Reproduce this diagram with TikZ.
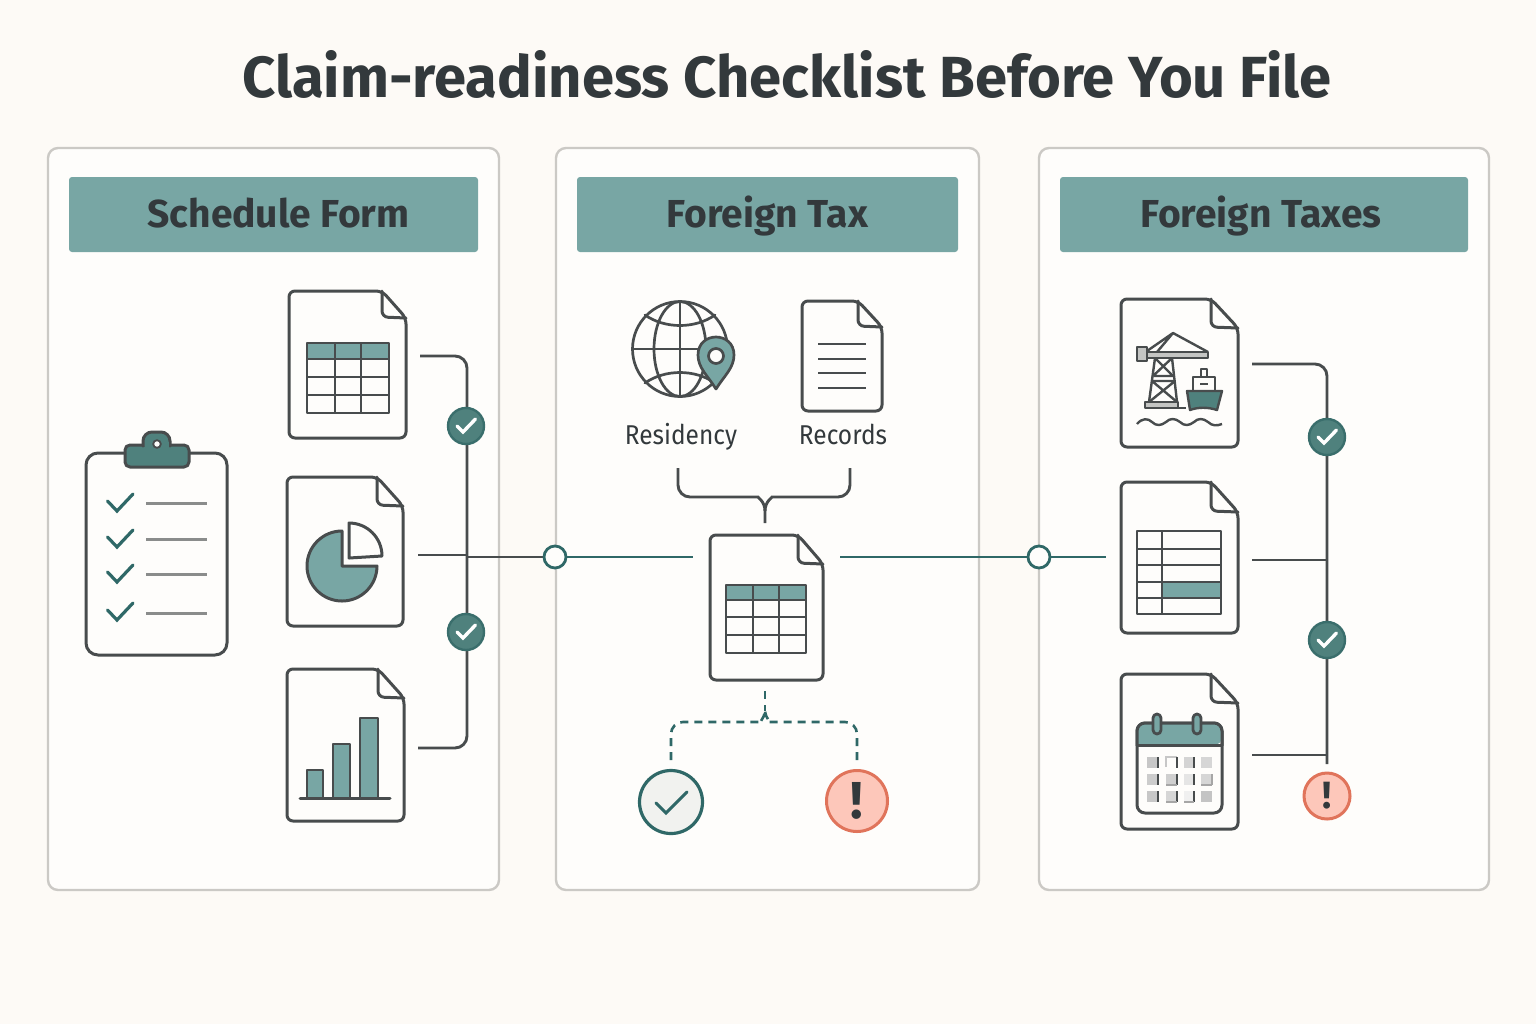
\documentclass[tikz,border=0pt]{standalone}
\usepackage{fontspec}
\setmainfont{Fira Sans}
\newfontfamily\lblfont[FakeStretch=0.9]{Fira Sans}
\usetikzlibrary{calc}
\definecolor{bgc}{HTML}{FDFAF6}
\definecolor{panelc}{HTML}{FEFDFB}
\definecolor{borderc}{HTML}{CBC9C5}
\definecolor{headc}{HTML}{78A6A4}
\definecolor{inkc}{HTML}{33393C}
\definecolor{linec}{HTML}{484C4D}
\definecolor{tealc}{HTML}{2F6867}
\definecolor{badgec}{HTML}{4F817D}
\definecolor{badgeb}{HTML}{3A6E6C}
\definecolor{redf}{HTML}{FDC7BA}
\definecolor{redb}{HTML}{E0745B}
\definecolor{okf}{HTML}{F1F2EF}
\definecolor{grayc}{HTML}{8A8C8B}
\definecolor{craneg}{HTML}{C4C5C3}
\tikzset{
  panel/.style={draw=borderc,line width=1.2pt,fill=panelc,rounded corners=5pt,inner sep=0pt},
  header/.style={fill=headc,rounded corners=1.5pt,inner sep=0pt,text=inkc,text height=17pt,text depth=4.5pt,font=\fontsize{19.5}{24}\selectfont\bfseries},
  ink/.style={draw=linec,line width=1.5pt,line join=round,line cap=round},
  thin/.style={draw=linec,line width=1.2pt,line join=round},
  conn/.style={draw=linec,line width=1.45pt,rounded corners=6pt},
  tconn/.style={draw=tealc,line width=1.4pt},
  dashconn/.style={draw=tealc,line width=1.3pt,dash pattern=on 4pt off 3pt,rounded corners=6pt},
  badge/.style={circle,fill=badgec,draw=badgeb,line width=1.2pt,minimum size=18pt,inner sep=0pt},
  junction/.style={circle,fill=panelc,draw=tealc,line width=1.4pt,minimum size=11pt,inner sep=0pt},
  warn/.style={circle,fill=redf,draw=redb,line width=1.5pt,inner sep=0pt,text=inkc,font=\bfseries},
  okc/.style={circle,fill=okf,draw=tealc,line width=1.6pt,minimum size=31.5pt,inner sep=0pt},
  label/.style={inner sep=0pt,text=inkc,text height=10.5pt,text depth=2.5pt,font=\lblfont\fontsize{13.6}{16}\selectfont},
}
\newcommand{\docicon}[6]{% x0 y0 x1 y1 foldx foldy
  \path[ink,fill=panelc,rounded corners=3pt] (#1,#2) -- (#5,#2) -- (#3,#6) -- (#3,#4) -- (#1,#4) -- cycle;
  \draw[ink,rounded corners=3pt] (#5,#2) -- (#5,#6-1) -- (#3,#6);
}
\newcommand{\wcheck}[1]{\draw[white,line width=1.7pt,line cap=round] ($(#1)+(-9,0)$) -- ($(#1)+(-3,6)$) -- ($(#1)+(9.5,-7)$);}
\newcommand{\tablegrid}[8]{% x0 y0 x1 y1 headbottom c1 c2 rows
  \fill[headc] (#1,#2) rectangle (#3,#5);
  \draw[thin] (#1,#2) rectangle (#3,#4) (#6,#2) -- (#6,#4) (#7,#2) -- (#7,#4);
  \foreach \r in {#8} \draw[thin] (#1,\r) -- (#3,\r);
}
\newcommand{\listcheck}[1]{\draw[tealc,line width=1.6pt,line cap=round] (107.5,#1-2) -- (117,#1+8) -- (133,#1-9);}
\newcommand{\cell}[3]{\fill[#3] (#1,#2) rectangle (#1+11,#2+11);}
\begin{document}
\begin{tikzpicture}[x=0.5pt,y=-0.5pt]
\useasboundingbox (0,0) rectangle (1536,1024);
\fill[bgc] (0,0) rectangle (1536,1024);
\node[inner sep=0pt,text=inkc,text height=26pt,text depth=7pt,font=\fontsize{29}{34}\selectfont\bfseries] (title) at (787,78.5) {Claim-readiness Checklist Before You File};
% panels
\node[panel,minimum width=225.5pt,minimum height=371pt] (pA) at (273.5,519) {};
\node[panel,minimum width=211.5pt,minimum height=371pt] (pB) at (767.5,519) {};
\node[panel,minimum width=225pt,minimum height=371pt] (pC) at (1264,519) {};
\node[header,minimum width=204.5pt,minimum height=37.5pt] (hA) at (273.5,214.5) {\kern5pt Schedule Form};
\node[header,minimum width=190.5pt,minimum height=37.5pt] (hB) at (767.5,214.5) {Foreign Tax};
\node[header,minimum width=204pt,minimum height=37.5pt] (hC) at (1264,214.5) {Foreign Taxes\kern3pt};
% coordinates for connectors
\coordinate (a1) at (420,356); \coordinate (a1c) at (467,356);
\coordinate (a3) at (418,748); \coordinate (a3c) at (467,748);
\coordinate (a2) at (418,555); \coordinate (a2c) at (467,555);
\coordinate (a4) at (467,557);
\coordinate (b1) at (693,557); \coordinate (b2) at (840,557);
\coordinate (c0) at (1106,557);
\coordinate (c1) at (1252,364); \coordinate (c1c) at (1327,364);
\coordinate (c2) at (1252,560); \coordinate (c2c) at (1327,560);
\coordinate (c3) at (1252,755); \coordinate (c3c) at (1327,755);
\coordinate (c4) at (1327,764);
\coordinate (brL) at (678,468); \coordinate (brLc) at (678,497);
\coordinate (brR) at (850,468); \coordinate (brRc) at (850,497);
\coordinate (brM) at (765,511); \coordinate (brE) at (765,523);
\coordinate (dT) at (765,691); \coordinate (dM) at (765,711);
\coordinate (dLc) at (671,722); \coordinate (dRc) at (857,722);
\coordinate (dL) at (671,760); \coordinate (dR) at (857,760);
% connectors panel A
\draw[conn] (a1) -- (a1c) -- (a3c) -- (a3);
\draw[conn] (a2) -- (a2c);
\draw[conn] (a4) -- (555,557);
\node[junction] (j1) at (555,557) {};
\draw[tconn] (j1) -- (b1);
\draw[tconn] (b2) -- (1039,557);
\node[junction] (j2) at (1039,557) {};
\draw[tconn] (j2) -- (c0);
\node[badge] (ba1) at (466,426) {}; \wcheck{ba1}
\node[badge] (ba2) at (466,632) {}; \wcheck{ba2}
% connectors panel C
\draw[conn] (c1) -- (c1c) -- (c4);
\draw[conn] (c2) -- (c2c);
\draw[conn,rounded corners=0pt] (c3) -- (c3c);
\node[badge] (bc1) at (1327,437) {}; \wcheck{bc1}
\node[badge] (bc2) at (1327,640) {}; \wcheck{bc2}
\node[warn,minimum size=23pt,font=\fontsize{19}{19}\selectfont\bfseries] (wc) at (1327,796) {!};
% clipboard
\draw[ink,fill=panelc,rounded corners=6pt] (86,453) rectangle (227,655);
\draw[ink,fill=badgec,rounded corners=2.5pt] (125,445) rectangle (189,467);
\draw[ink,fill=badgec] (143,446) -- (143,441) arc[start angle=180,end angle=270,radius=9] -- (161,432) arc[start angle=-90,end angle=0,radius=9] -- (170,446);
\fill[badgec] (144.5,442) rectangle (168.5,449);
\draw[line width=0.9pt,draw=linec,fill=panelc] (157,444) circle[radius=3.8];
\listcheck{503}\listcheck{539}\listcheck{574}\listcheck{612}
\foreach \yy in {503,539,574,613} \draw[grayc,line width=1.5pt] (146,\yy) -- (207,\yy);
% doc 1 A
\docicon{289}{291}{406}{438}{382}{318}
\tablegrid{307}{343}{389}{413}{359}{335}{361}{359,377,395}
% doc 2 A
\docicon{287}{477}{403}{626}{377}{506}
\draw[ink,fill=headc] (342,566) -- (342,531) arc[start angle=-90,end angle=-360,radius=35] -- cycle;
\draw[ink,fill=panelc] (349,558) -- (349,523) arc[start angle=-90,end angle=0,radius=33] -- cycle;
% doc 3 A
\docicon{287}{669}{404}{821}{378}{698}
\draw[thin,fill=headc] (307,770) rectangle (323,798);
\draw[thin,fill=headc] (333,744) rectangle (350,798);
\draw[thin,fill=headc] (360,718) rectangle (378,798);
\draw[ink] (300,798) -- (390,798);
% globe
\tikzset{gl/.style={ink,line width=1.35pt}}
\draw[gl] (680,349) circle[radius=47.5];
\draw[gl] (680,349) ellipse[x radius=26,y radius=47.5];
\draw[gl] (680,301.5) -- (680,396.5) (632.5,349) -- (727.5,349);
\draw[gl] (645,315) .. controls (665,329) and (695,329) .. (715,315);
\draw[gl] (645,383) .. controls (665,369) and (695,369) .. (715,383);
\draw[gl,fill=headc] (716,389) .. controls (708,376) and (698,368) .. (698,355) .. controls (698,331) and (734,331) .. (734,355) .. controls (734,368) and (724,376) .. (716,389) -- cycle;
\draw[gl,fill=panelc] (716,356) circle[radius=7.5];
% records
\docicon{802}{301}{882}{411}{858}{327}
\foreach \yy in {344,359,373,388} \draw[thin,line width=1pt] (818,\yy) -- (866,\yy);
\node[label] (lres) at (681,436) {Residency};
\node[label] (lrec) at (843,436) {Records};
% brace
\draw[conn] (brL) -- (brLc) -- (746,497) [sharp corners] .. controls (757,497) and (765,501) .. (brM) -- (brE);
\draw[conn] (brR) -- (brRc) -- (784,497) [sharp corners] .. controls (773,497) and (765,501) .. (brM);
% center doc
\docicon{710}{535}{823}{680}{798}{564}
\tablegrid{726}{585}{806}{653}{600}{753}{779}{600,617,635}
% dashed
\draw[dashconn] (dT) -- (dM);
\draw[dashconn] (dL) -- (dLc) -- (750,722) [sharp corners] .. controls (758,722) and (764,720) .. (dM);
\draw[dashconn] (dR) -- (dRc) -- (780,722) [sharp corners] .. controls (772,722) and (766,720) .. (dM);
\node[okc] (ok) at (671,802) {};
\draw[tealc,line width=1.5pt,line cap=round] ($(ok)+(-15,1)$) -- ($(ok)+(-5,11)$) -- ($(ok)+(16,-10)$);
\node[warn,minimum size=30.5pt,font=\fontsize{26}{26}\selectfont\bfseries] (wm) at (857,801) {!};
% right doc 1
\docicon{1121}{299}{1238}{447}{1211}{328}
\draw[thin,fill=craneg] (1137,347) rectangle (1147,361);
\draw[thin,fill=craneg] (1147,352) rectangle (1208,358);
\draw[thin] (1147,351) -- (1173,333) -- (1208,352) (1157,352) -- (1173,333);
\draw[thin] (1155,358) -- (1149,402) (1172,358) -- (1177,402);
\draw[thin] (1154,376) -- (1174,376) (1155,358) -- (1173,376) (1172,358) -- (1153,376);
\draw[thin] (1152,381) -- (1175,381) (1152,381) -- (1177,402) (1175,381) -- (1149,402);
\draw[thin,fill=craneg] (1145,402) rectangle (1178,408);
\draw[thin] (1178,408) -- (1186,408);
\draw[thin,fill=panelc] (1201,369) rectangle (1207,377);
\draw[thin,fill=panelc] (1193,377) rectangle (1215,391);
\draw[thin] (1200,384) -- (1208,384);
\draw[thin,fill=badgec] (1187,391) -- (1222,391) -- (1217,410) .. controls (1208,407) and (1198,407) .. (1190,410) -- cycle;
\draw[thin] (1137,424) .. controls (1142,418) and (1148,418) .. (1152,422) .. controls (1156,426) and (1161,426) .. (1166,422) .. controls (1170,418) and (1175,418) .. (1180,422) .. controls (1184,426) and (1189,426) .. (1194,422) .. controls (1198,418) and (1203,418) .. (1208,422) .. controls (1212,426) and (1217,426) .. (1222,424);
% right doc 2
\docicon{1121}{482}{1238}{633}{1211}{512}
\fill[headc] (1162,582) rectangle (1221,598);
\draw[thin] (1137,531) rectangle (1221,614) (1162,531) -- (1162,614);
\foreach \yy in {549,565,582,598} \draw[thin] (1137,\yy) -- (1221,\yy);
% right doc 3
\docicon{1121}{674}{1238}{829}{1211}{703}
\draw[ink,fill=panelc,rounded corners=4pt] (1137,723) rectangle (1222,813);
\fill[headc,rounded corners=4pt] (1137,745) -- (1137,723) -- (1222,723) -- (1222,745) [sharp corners] -- cycle;
\draw[ink] (1137,745) -- (1222,745);
\draw[ink,rounded corners=4pt] (1137,745) -- (1137,723) -- (1222,723) -- (1222,745);
\draw[ink,line width=1.4pt,fill=headc,rounded corners=2pt] (1153,714) rectangle (1161,734);
\draw[ink,line width=1.4pt,fill=headc,rounded corners=2pt] (1193,714) rectangle (1201,734);
% calendar cells
\cell{1147}{757}{black!22}\cell{1184}{757}{black!17}\cell{1201}{757}{black!16}
\draw[black!22,line width=0.9pt] (1166,767) -- (1166,757) -- (1177,757);
\cell{1147}{774}{black!20}\cell{1166}{774}{black!19}\cell{1184}{774}{black!10}\cell{1201}{774}{black!16}
\cell{1147}{791}{black!22}\cell{1166}{791}{black!16}\cell{1184}{791}{black!6}\cell{1201}{791}{black!23}
\foreach \xx/\yy in {1158/757,1177/757,1194/757,1158/774,1177/774,1194/774,1158/791,1177/791,1194/791}
  \draw[linec,line width=0.9pt] (\xx,\yy) -- (\xx,\yy+11);
\draw[black!35,line width=0.9pt] (1166,802) -- (1177,802) (1184,802) -- (1194,802) (1166,785) -- (1177,785) (1201,785) -- (1212,785) (1212,774) -- (1212,785);
\end{tikzpicture}
\end{document}
